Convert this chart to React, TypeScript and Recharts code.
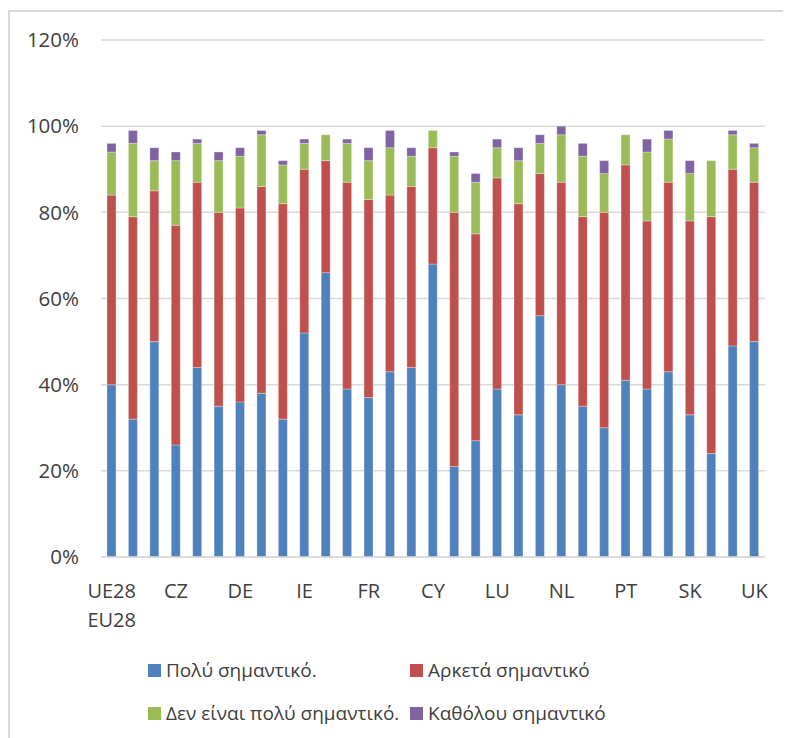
import React from 'react'
import {
  BarChart,
  Bar,
  XAxis,
  YAxis,
  CartesianGrid,
  Legend,
} from 'recharts'

const countries = [
  'UE28\nEU28', 'BE', 'BG', 'CZ', 'DK', 'D-W', 'DE', 'D-E', 'EE', 'IE', 'EL',
  'ES', 'FR', 'HR', 'IT', 'CY', 'LV', 'LT', 'LU', 'HU', 'MT',
  'NL', 'AT', 'PL', 'PT', 'RO', 'SI', 'SK', 'FI', 'SE', 'UK',
]

const veryImportant = [
  40, 32, 50, 26, 44, 35, 36, 38, 32, 52, 66,
  39, 37, 43, 44, 68, 21, 27, 39, 33, 56,
  40, 35, 30, 41, 39, 43, 33, 24, 49, 50,
]
const fairlyImportant = [
  44, 47, 35, 51, 43, 45, 45, 48, 50, 38, 26,
  48, 46, 41, 42, 27, 59, 48, 49, 49, 33,
  47, 44, 50, 50, 39, 44, 45, 55, 41, 37,
]
const notVeryImportant = [
  10, 17, 7, 15, 9, 12, 12, 12, 9, 6, 6,
  9, 9, 11, 7, 4, 13, 12, 7, 10, 7,
  11, 14, 9, 7, 16, 10, 11, 13, 8, 8,
]
const notAtAllImportant = [
  2, 3, 3, 2, 1, 2, 2, 1, 1, 1, 0,
  1, 3, 4, 2, 0, 1, 2, 2, 3, 2,
  2, 3, 3, 0, 3, 2, 3, 0, 1, 1,
]

const yTicks = [0, 20, 40, 60, 80, 100, 120]

const series = [
  { key: 'v1', name: 'Πολύ σημαντικό.', color: '#4F81BD' },
  { key: 'v2', name: 'Αρκετά σημαντικό', color: '#C0504D' },
  { key: 'v3', name: 'Δεν είναι πολύ σημαντικό.', color: '#9BBB59' },
  { key: 'v4', name: 'Καθόλου σημαντικό', color: '#8064A2' },
]

const data = countries.map((c, i) => ({
  country: c,
  v1: veryImportant[i],
  v2: fairlyImportant[i],
  v3: notVeryImportant[i],
  v4: notAtAllImportant[i],
}))

const FONT = "'Open Sans', 'Noto Sans', sans-serif"
const TEXT = '#404040'

// first label wraps onto two lines, like the spreadsheet axis
function CountryTick(props: any) {
  const { x, y, payload } = props
  const lines = String(payload.value).split('\n')
  return (
    <text x={x} y={y} textAnchor="middle" fill={TEXT} fontSize={20} fontFamily={FONT}>
      {lines.map((l, i) => (
        <tspan key={i} x={x} dy={i === 0 ? 33 : 29}>{l}</tspan>
      ))}
    </text>
  )
}

function LegendBox() {
  const pos = [
    { left: 140, top: 0 },
    { left: 402, top: 0 },
    { left: 140, top: 43 },
    { left: 402, top: 43 },
  ]
  return (
    <div style={{ position: 'relative', height: 70, fontFamily: FONT, color: TEXT, fontSize: 19 }}>
      {series.map((s, i) => (
        <div
          key={s.key}
          style={{ position: 'absolute', left: pos[i].left, top: pos[i].top, display: 'flex', alignItems: 'center', whiteSpace: 'nowrap', lineHeight: '24px' }}
        >
          <span style={{ width: 13, height: 13, background: s.color, display: 'inline-block', marginRight: 5 }} />
          <span>{s.name}</span>
        </div>
      ))}
    </div>
  )
}

export default function App() {
  return (
    <div style={{ position: 'relative', width: 783, height: 730 }}>
      <div
        style={{
          position: 'absolute',
          left: 0,
          top: 2,
          width: 783,
          height: 728,
          borderTop: '2px solid #d9d9d9',
          borderLeft: '2px solid #d9d9d9',
          boxSizing: 'border-box',
        }}
      />
      <BarChart
        width={783}
        height={730}
        data={data}
        margin={{ top: 32, right: 26, left: 0, bottom: 0 }}
        barSize={9}
        style={{ position: 'absolute', left: 0, top: 0 }}
      >
        <CartesianGrid vertical={false} stroke="#d9d9d9" strokeWidth={1.5} />
        <XAxis
          dataKey="country"
          interval={2}
          tick={<CountryTick />}
          tickLine={false}
          axisLine={{ stroke: '#d9d9d9', strokeWidth: 1.5 }}
          height={111}
        />
        <YAxis
          domain={[0, 120]}
          ticks={yTicks}
          tickFormatter={(v: number) => `${v}%`}
          axisLine={false}
          tickLine={false}
          tickSize={0}
          tickMargin={22}
          width={93}
          tick={{ fill: TEXT, fontSize: 20.5, fontFamily: FONT }}
        />
        {series.map((s) => (
          <Bar
            key={s.key}
            dataKey={s.key}
            name={s.name}
            stackId="a"
            fill={s.color}
            stroke="#ffffff"
            strokeOpacity={0.5}
            strokeWidth={0.6}
            isAnimationActive={false}
          />
        ))}
        <Legend
          content={<LegendBox />}
          wrapperStyle={{ position: 'absolute', left: 0, top: 650, width: 783, height: 70 }}
        />
      </BarChart>
    </div>
  )
}
